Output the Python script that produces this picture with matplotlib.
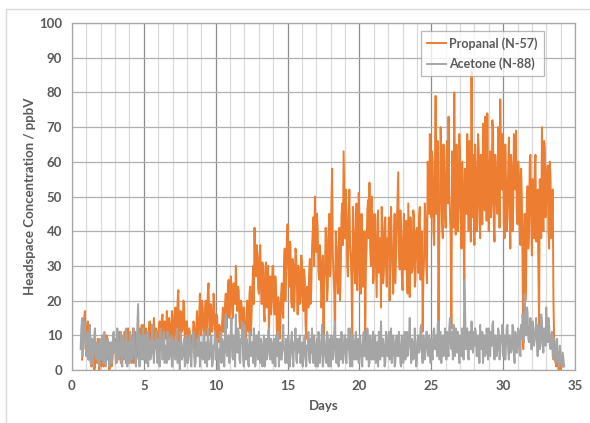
import numpy as np
import matplotlib
matplotlib.use("Agg")
import matplotlib.pyplot as plt
from matplotlib.patches import Rectangle

# ---------------- data ----------------
# readings every 0.1 day, plus the in-between readings (offset 0.05 day)
propanal_start = 0.7
propanal = [
    3, 12, 17,
    8, 14, 4, 9, 2, 7, 1, 5, 9, 0,
    4, 8, 1, 6, 10, 3, 0, 7, 2, 5,
    9, 3, 6, 11, 2, 8, 4, 10, 5, 12,
    3, 9, 6, 2, 11, 7, 4, 12, 8, 5,
    13, 6, 10, 3, 14, 8, 5, 15, 7, 11,
    4, 14, 9, 16, 6, 12, 17, 8, 13, 10,
    15, 7, 18, 11, 23, 9, 16, 12, 19, 8,
    14, 6, 11, 5, 9, 13, 7, 17, 11, 22,
    12, 18, 9, 20, 14, 25, 10, 17, 13, 19,
    9, 15, 8, 12, 10, 18, 14, 22, 16, 26,
    18, 24, 15, 21, 30, 17, 23, 12, 19, 9,
    16, 6, 20, 11, 24, 17, 30, 41, 27, 33,
    22, 36, 19, 28, 14, 31, 24, 10, 27, 20,
    30, 16, 23, 8, 19, 12, 25, 15, 35, 29,
    42, 24, 36, 18, 30, 22, 33, 16, 27, 21,
    31, 17, 26, 9, 22, 28, 19, 35, 44, 50,
    34, 40, 26, 30, 21, 6, 28, 38, 24, 45,
    31, 58, 27, 6, 36, 22, 41, 29, 48, 63,
    38, 46, 27, 52, 33, 9, 41, 25, 48, 30,
    44, 22, 37, 28, 6, 35, 49, 54, 30, 42,
    26, 39, 21, 46, 32, 18, 40, 28, 44, 24,
    36, 20, 47, 30, 38, 25, 42, 57, 29, 40,
    23, 45, 33, 27, 48, 21, 39, 30, 44, 26,
    41, 28, 47, 35, 11, 32, 43, 25, 55, 68,
    44, 60, 36, 79, 50, 6, 48, 62, 38, 57,
    41, 66, 73, 45, 12, 53, 80, 39, 58, 47,
    62, 35, 55, 26, 49, 68, 40, 59, 86, 44,
    36, 57, 42, 64, 38, 53, 71, 46, 60, 74,
    40, 63, 48, 69, 37, 56, 45, 66, 78, 52,
    61, 38, 54, 44, 67, 35, 58, 47, 63, 69,
    42, 56, 36, 50, 6, 45, 28, 53, 39, 62,
    33, 48, 58, 37, 52, 12, 45, 70, 40, 64,
    49, 59, 35, 55, 44, 20, 3, 1, 5, 2,
    0, 3,
]
propanal_mid = [
    8, 15, 6,
    12, 3, 10, 1, 6, 0, 8, 2, 4, 7,
    1, 5, 9, 2, 4, 8, 3, 1, 6, 9,
    2, 7, 10, 4, 9, 3, 11, 2, 9, 4,
    10, 2, 12, 8, 4, 10, 3, 6, 13, 9,
    4, 12, 7, 11, 5, 13, 9, 6, 12, 5,
    13, 8, 15, 7, 14, 9, 6, 15, 9, 17,
    6, 16, 10, 20, 8, 17, 11, 20, 8, 14,
    9, 12, 4, 10, 14, 6, 12, 8, 15, 10,
    20, 11, 16, 10, 22, 13, 19, 11, 22, 12,
    16, 10, 13, 9, 14, 11, 19, 12, 24, 15,
    27, 16, 25, 19, 22, 24, 14, 20, 10, 18,
    8, 14, 12, 22, 10, 25, 19, 28, 36, 24,
    33, 24, 31, 17, 29, 18, 30, 21, 16, 30,
    18, 27, 12, 21, 9, 22, 17, 30, 20, 38,
    30, 37, 20, 32, 17, 35, 24, 30, 19, 33,
    20, 29, 13, 24, 18, 32, 23, 40, 30, 38,
    45, 28, 36, 18, 33, 25, 41, 20, 39, 27,
    48, 33, 22, 40, 27, 35, 20, 44, 36, 50,
    52, 30, 44, 36, 25, 47, 31, 40, 23, 51,
    27, 45, 24, 40, 30, 46, 38, 35, 50, 25,
    45, 30, 43, 28, 38, 47, 25, 42, 30, 38,
    44, 31, 36, 22, 45, 33, 48, 34, 46, 27,
    38, 29, 43, 22, 35, 44, 28, 46, 24, 40,
    33, 44, 26, 40, 27, 48, 30, 60, 45, 52,
    63, 40, 55, 45, 66, 38, 70, 42, 65, 46,
    60, 48, 52, 38, 63, 41, 55, 65, 40, 68,
    43, 60, 38, 58, 45, 52, 66, 37, 50, 62,
    65, 40, 68, 47, 62, 42, 58, 73, 43, 55,
    58, 44, 72, 42, 62, 48, 70, 41, 60, 68,
    42, 65, 40, 58, 48, 62, 40, 68, 52, 45,
    60, 40, 58, 30, 38, 20, 48, 35, 60, 45,
    55, 38, 62, 44, 30, 55, 38, 52, 66, 44,
    56, 40, 60, 38, 52, 8, 2, 4, 0, 4,
    2, 1,
]

acetone_start = 0.6
acetone = [
    6, 15, 9, 13,
    4, 11, 7, 2, 9, 5, 12, 3, 8, 1,
    6, 10, 2, 7, 4, 9, 1, 8, 3, 11,
    5, 2, 9, 4, 11, 1, 7, 3, 10, 6,
    2, 8, 4, 12, 3, 7, 19, 1, 9, 5,
    3, 10, 6, 1, 8, 4, 13, 2, 7, 5,
    9, 1, 6, 3, 11, 5, 2, 8, 4, 10,
    1, 7, 3, 12, 5, 0, 8, 4, 9, 2,
    6, 3, 10, 1, 7, 4, 2, 9, 5, 1,
    8, 3, 11, 5, 1, 7, 4, 10, 2, 6,
    3, 9, 0, 5, 2, 8, 1, 16, 4, 10,
    6, 15, 3, 9, 16, 5, 11, 2, 8, 4,
    13, 3, 7, 1, 10, 5, 2, 9, 4, 6,
    11, 2, 7, 4, 1, 9, 5, 12, 3, 8,
    2, 6, 10, 4, 1, 8, 3, 13, 5, 9,
    2, 7, 4, 11, 1, 6, 3, 9, 5, 2,
    8, 4, 10, 1, 6, 3, 9, 12, 2, 7,
    4, 1, 9, 5, 13, 3, 7, 2, 10, 6,
    1, 8, 4, 14, 2, 6, 9, 3, 7, 5,
    10, 2, 6, 4, 12, 1, 8, 5, 3, 9,
    4, 7, 1, 11, 5, 3, 9, 2, 6, 8,
    3, 10, 5, 1, 8, 14, 4, 7, 2, 9,
    6, 3, 12, 5, 8, 2, 10, 4, 7, 1,
    9, 5, 3, 11, 6, 15, 2, 8, 4, 7,
    3, 10, 6, 13, 2, 8, 5, 11, 4, 7,
    9, 3, 12, 6, 4, 14, 7, 2, 10, 5,
    8, 11, 4, 15, 6, 3, 9, 12, 5, 7,
    10, 4, 8, 26, 6, 12, 3, 9, 14, 5,
    7, 11, 4, 9, 13, 6, 2, 10, 5, 8,
    12, 4, 7, 14, 3, 9, 6, 11, 5, 8,
    4, 10, 7, 13, 3, 9, 6, 12, 2, 8,
    5, 11, 4, 9, 13, 22, 10, 17, 8, 15,
    6, 12, 9, 15, 4, 11, 7, 14, 5, 10,
    18, 8, 13, 6, 11, 3, 8, 2, 5, 1,
    4, 1, 3,
]
acetone_mid = [
    12, 4, 14, 7,
    9, 3, 13, 6, 1, 10, 4, 7, 2, 9,
    3, 7, 11, 1, 9, 4, 6, 2, 10, 5,
    8, 12, 3, 7, 2, 10, 5, 12, 1, 8,
    11, 3, 9, 5, 1, 13, 6, 10, 3, 12,
    7, 2, 11, 9, 3, 10, 5, 8, 11, 2,
    4, 12, 8, 10, 2, 7, 11, 3, 9, 1,
    9, 4, 10, 2, 8, 11, 3, 7, 1, 10,
    2, 9, 5, 7, 11, 1, 8, 4, 10, 7,
    4, 10, 2, 8, 12, 3, 9, 1, 7, 11,
    8, 2, 6, 11, 9, 3, 12, 5, 9, 2,
    11, 4, 10, 1, 7, 12, 3, 9, 14, 1,
    5, 9, 2, 11, 4, 8, 12, 1, 10, 3,
    5, 9, 1, 10, 7, 3, 11, 4, 9, 2,
    9, 1, 4, 11, 7, 3, 10, 6, 2, 4,
    10, 1, 9, 5, 8, 12, 2, 6, 10, 7,
    1, 9, 3, 7, 11, 2, 5, 3, 10, 1,
    9, 11, 2, 8, 1, 10, 4, 11, 1, 9,
    10, 3, 11, 6, 9, 1, 4, 11, 2, 10,
    3, 9, 12, 1, 7, 10, 3, 11, 8, 2,
    10, 2, 9, 4, 8, 12, 1, 10, 3, 11,
    9, 2, 8, 11, 3, 6, 9, 1, 11, 4,
    11, 8, 2, 10, 1, 9, 4, 11, 2, 10,
    2, 11, 8, 4, 10, 7, 9, 3, 12, 1,
    9, 5, 12, 4, 10, 3, 11, 6, 10, 2,
    4, 11, 6, 10, 13, 3, 11, 9, 4, 12,
    3, 6, 12, 8, 11, 13, 4, 7, 11, 2,
    5, 12, 3, 18, 10, 4, 11, 6, 8, 11,
    12, 4, 10, 2, 7, 11, 10, 4, 12, 3,
    6, 11, 13, 6, 10, 4, 12, 3, 10, 13,
    10, 3, 12, 6, 10, 5, 13, 4, 11, 5,
    12, 7, 13, 16, 8, 14, 18, 9, 12, 6,
    14, 7, 11, 8, 13, 6, 16, 8, 12, 7,
    12, 15, 7, 10, 4, 9, 5, 9, 3, 7,
    2, 5, 1,
]

series_labels = ["Propanal (N-57)", "Acetone (N-88)"]
x_ticks = [0, 5, 10, 15, 20, 25, 30, 35]
y_ticks = [0, 10, 20, 30, 40, 50, 60, 70, 80, 90, 100]
x_label = "Days"
y_label = "Headspace Concentration / ppbV"


def merge(start, main, mid):
    xa = start + 0.1 * np.arange(len(main))
    xb = start + 0.05 + 0.1 * np.arange(len(mid))
    x = np.concatenate([xa, xb])
    y = np.concatenate([np.asarray(main, float), np.asarray(mid, float)])
    order = np.argsort(x, kind="stable")
    return x[order], y[order]


# ---------------- figure ----------------
W, H = 590, 423
fig = plt.figure(figsize=(W / 100, H / 100), dpi=100)
fig.patch.set_facecolor("white")

# chart-area border
fig.patches.append(Rectangle((6 / W, -0.01), 1.1, (H - 9) / H + 0.01,
                             transform=fig.transFigure, fill=False,
                             edgecolor="#D9D9D9", linewidth=1.0))

left, right, top, bottom = 72, 575, 23, 370
ax = fig.add_axes([left / W, (H - bottom) / H, (right - left) / W, (bottom - top) / H])

txt = "#595959"
font = ["Lato", "DejaVu Sans"]

px, py = merge(propanal_start, propanal, propanal_mid)
gx, gy = merge(acetone_start, acetone, acetone_mid)
ax.plot(px, py, color="#ED7D31", linewidth=1.4, label=series_labels[0], zorder=3)
ax.plot(gx, gy, color="#A5A5A5", linewidth=1.4, label=series_labels[1], zorder=4)

ax.set_xlim(0, 35)
ax.set_ylim(0, 100)
ax.set_xticks(x_ticks)
ax.set_yticks(y_ticks)
ax.set_xticks(np.arange(0, 36, 1), minor=True)

ax.grid(which="minor", axis="x", color="#D9D9D9", linewidth=0.9, zorder=0)
ax.grid(which="major", axis="x", color="#8C8C8C", linewidth=0.9, zorder=1)
ax.grid(which="major", axis="y", color="#B0B0B0", linewidth=0.9, zorder=1)
ax.set_axisbelow(True)

for s in ax.spines.values():
    s.set_color("#A6A6A6")
    s.set_linewidth(0.9)

ax.tick_params(which="both", length=0, pad=7)
for lab in ax.get_xticklabels() + ax.get_yticklabels():
    lab.set_family(font)
    lab.set_fontweight("bold")
    lab.set_fontsize(9.5)
    lab.set_color(txt)

ax.set_xlabel(x_label, family=font, fontweight="bold", fontsize=9.5, color=txt, labelpad=6)
ax.set_ylabel(y_label, family=font, fontweight="bold", fontsize=9.5, color=txt, labelpad=2)

leg = ax.legend(loc="upper right",
                bbox_to_anchor=((544 - left) / (right - left), (bottom - 31) / (bottom - top)),
                frameon=True, fancybox=False, handlelength=1.5, handletextpad=0.3,
                borderpad=0.5, borderaxespad=0.0, labelspacing=0.6,
                prop={"family": font, "weight": "bold", "size": 9})
leg.get_frame().set_edgecolor("#A6A6A6")
leg.get_frame().set_linewidth(0.9)
for t in leg.get_texts():
    t.set_color(txt)
for h in leg.get_lines():
    h.set_linewidth(1.4)
leg.set_zorder(10)

fig.savefig("out.png", dpi=100, facecolor="white")
